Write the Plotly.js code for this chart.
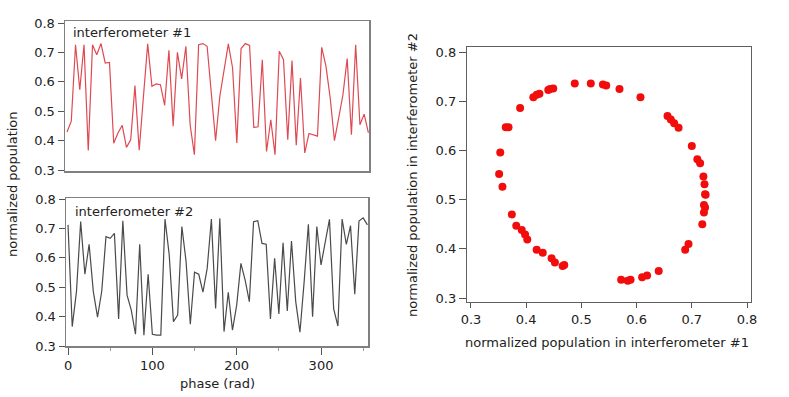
<!DOCTYPE html>
<html>
<head>
<meta charset="utf-8">
<script src="https://cdn.plot.ly/plotly-3.0.1.min.js"></script>
<style>
    html, body { margin: 0; padding: 0; background: #ffffff; }
    #chart { width: 789px; height: 397px; }
</style>
</head>
<body>
<div id="chart"></div>
<script>
// phase samples, every 5 rad
const phase = Array.from({length: 72}, (_, i) => i * 5);

// normalized population
const interferometer1 = [
    0.429, 0.466, 0.726, 0.573, 0.726, 0.366, 0.726, 0.692, 0.730, 0.664,
    0.666, 0.391, 0.426, 0.452, 0.377, 0.403, 0.587, 0.367, 0.550, 0.729,
    0.585, 0.593, 0.590, 0.520, 0.707, 0.449, 0.700, 0.610, 0.721, 0.454,
    0.352, 0.726, 0.730, 0.721, 0.560, 0.400, 0.551, 0.640, 0.729, 0.647,
    0.392, 0.713, 0.730, 0.724, 0.445, 0.447, 0.675, 0.363, 0.471, 0.352,
    0.704, 0.675, 0.403, 0.672, 0.384, 0.613, 0.358, 0.424, 0.420, 0.415,
    0.717, 0.653, 0.545, 0.400, 0.477, 0.556, 0.679, 0.420, 0.726, 0.454,
    0.490, 0.426
];

const interferometer2 = [
    0.712, 0.366, 0.485, 0.723, 0.544, 0.646, 0.485, 0.398, 0.487, 0.672,
    0.666, 0.683, 0.392, 0.726, 0.473, 0.422, 0.340, 0.646, 0.337, 0.544,
    0.340, 0.337, 0.337, 0.732, 0.610, 0.383, 0.405, 0.706, 0.587, 0.374,
    0.551, 0.544, 0.483, 0.564, 0.732, 0.428, 0.734, 0.349, 0.483, 0.354,
    0.439, 0.581, 0.524, 0.451, 0.723, 0.726, 0.649, 0.646, 0.392, 0.598,
    0.409, 0.651, 0.419, 0.657, 0.451, 0.347, 0.519, 0.714, 0.400, 0.706,
    0.576, 0.654, 0.731, 0.426, 0.368, 0.732, 0.646, 0.709, 0.476, 0.725,
    0.736, 0.712
];

// correlation plot points (#1 vs #2)
const corrX = [
    0.488, 0.517, 0.449, 0.443, 0.440, 0.424, 0.419, 0.413, 0.389, 0.368,
    0.363, 0.353, 0.351, 0.357, 0.539, 0.545, 0.569, 0.607, 0.656, 0.662,
    0.668, 0.676, 0.700, 0.710, 0.715, 0.721, 0.723, 0.724, 0.374, 0.382,
    0.392, 0.398, 0.402, 0.419, 0.430, 0.446, 0.452, 0.466, 0.469, 0.725,
    0.722, 0.724, 0.722, 0.719, 0.694, 0.688, 0.640, 0.619, 0.610, 0.589,
    0.584, 0.572
];
const corrY = [
    0.736, 0.736, 0.726, 0.725, 0.723, 0.715, 0.713, 0.708, 0.686, 0.647,
    0.647, 0.596, 0.552, 0.526, 0.734, 0.732, 0.725, 0.708, 0.670, 0.663,
    0.655, 0.646, 0.609, 0.582, 0.574, 0.547, 0.531, 0.511, 0.470, 0.447,
    0.438, 0.429, 0.419, 0.398, 0.392, 0.381, 0.372, 0.365, 0.367, 0.510,
    0.489, 0.484, 0.474, 0.450, 0.410, 0.398, 0.355, 0.346, 0.342, 0.337,
    0.335, 0.337
];

const popTicks = [0.3, 0.4, 0.5, 0.6, 0.7, 0.8];
const phaseTicks = [0, 100, 200, 300];

const W = 789, H = 397;
const px = v => v / W;
const py = v => 1 - v / H;

const font = { family: 'DejaVu Sans, sans-serif', size: 13, color: '#222222' };

const frameAxis = {
    showline: true, mirror: true, linecolor: '#808080', linewidth: 1.5,
    showgrid: false, zeroline: false, ticks: 'outside', ticklen: 6,
    tickcolor: '#555555', tickfont: font
};

const traces = [
    {
        x: phase, y: interferometer1, type: 'scatter', mode: 'lines',
        line: { color: '#de4a52', width: 1.2 }, xaxis: 'x', yaxis: 'y',
        hoverinfo: 'skip'
    },
    {
        x: phase, y: interferometer2, type: 'scatter', mode: 'lines',
        line: { color: '#4a4a4a', width: 1.2 }, xaxis: 'x2', yaxis: 'y2',
        hoverinfo: 'skip'
    },
    {
        x: corrX, y: corrY, type: 'scatter', mode: 'markers',
        marker: { color: '#f20d0d', size: 8 }, xaxis: 'x3', yaxis: 'y3',
        hoverinfo: 'skip'
    }
];

const layout = {
    width: W, height: H, autosize: false, showlegend: false,
    margin: { l: 0, r: 0, t: 0, b: 0 },
    paper_bgcolor: '#ffffff', plot_bgcolor: '#ffffff',
    font: font,
    // top left: interferometer #1
    xaxis: Object.assign({}, frameAxis, {
        domain: [px(65), px(369)], range: [-2.4, 355.7], anchor: 'y',
        ticks: '', showticklabels: false
    }),
    yaxis: Object.assign({}, frameAxis, {
        domain: [py(171), py(21)], range: [0.2966, 0.8068], anchor: 'x',
        tickvals: popTicks, ticktext: popTicks.map(v => v.toFixed(1))
    }),
    // bottom left: interferometer #2
    xaxis2: Object.assign({}, frameAxis, {
        domain: [px(66), px(368)], range: [-2.4, 355.7], anchor: 'y2',
        tickvals: phaseTicks, ticklen: 7,
        minor: { tickvals: [50, 150, 250, 350], ticks: 'outside', ticklen: 3, tickcolor: '#999999' }
    }),
    yaxis2: Object.assign({}, frameAxis, {
        domain: [py(346), py(198)], range: [0.3, 0.8034], anchor: 'x2',
        tickvals: popTicks, ticktext: popTicks.map(v => v.toFixed(1))
    }),
    // right: correlation
    xaxis3: Object.assign({}, frameAxis, {
        domain: [px(467), px(751)], range: [0.2928, 0.8072], anchor: 'y3',
        linecolor: '#606060', linewidth: 1.2, ticklen: 5,
        tickvals: popTicks, ticktext: popTicks.map(v => v.toFixed(1))
    }),
    yaxis3: Object.assign({}, frameAxis, {
        domain: [py(302), py(47)], range: [0.2919, 0.8102], anchor: 'x3',
        linecolor: '#606060', linewidth: 1.2, ticklen: 7,
        tickvals: popTicks, ticktext: popTicks.map(v => v.toFixed(1))
    }),
    annotations: [
        { text: 'interferometer #1', xref: 'paper', yref: 'paper', x: px(71), y: py(33),
          xanchor: 'left', yanchor: 'middle', showarrow: false, font: font },
        { text: 'interferometer #2', xref: 'paper', yref: 'paper', x: px(73), y: py(211),
          xanchor: 'left', yanchor: 'middle', showarrow: false, font: font },
        { text: 'normalized population', xref: 'paper', yref: 'paper', x: px(12), y: py(184),
          xanchor: 'center', yanchor: 'middle', textangle: -90, showarrow: false, font: font },
        { text: 'phase (rad)', xref: 'paper', yref: 'paper', x: px(217), y: py(383),
          xanchor: 'center', yanchor: 'middle', showarrow: false, font: font },
        { text: 'normalized population in interferometer #2', xref: 'paper', yref: 'paper',
          x: px(412), y: py(175), xanchor: 'center', yanchor: 'middle', textangle: -90,
          showarrow: false, font: font },
        { text: 'normalized population in interferometer #1', xref: 'paper', yref: 'paper',
          x: px(607), y: py(342), xanchor: 'center', yanchor: 'middle',
          showarrow: false, font: font }
    ]
};

Plotly.newPlot('chart', traces, layout, { staticPlot: true, displayModeBar: false });
</script>
</body>
</html>
